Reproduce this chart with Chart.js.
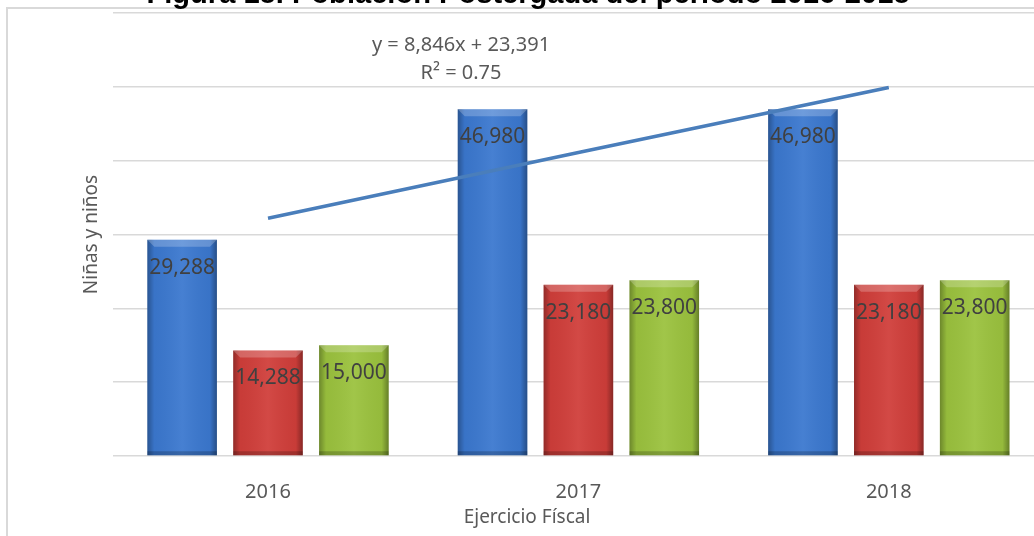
<!DOCTYPE html>
<html>
<head>
<meta charset="utf-8">
<script src="https://cdn.jsdelivr.net/npm/chart.js@4.4.0/dist/chart.umd.min.js"></script>
<style>
  html, body { margin: 0; padding: 0; background: #fff; overflow: hidden; }
  #wrap { position: absolute; left: 0; top: 0; width: 1050px; height: 536px; }
</style>
</head>
<body>
<div id="wrap"><canvas id="poblacionChart" width="1050" height="536"></canvas></div>
<script>
// datos
const categorias = ['2016', '2017', '2018'];
const serieAzul = [29288, 46980, 46980];
const serieRoja = [14288, 23180, 23180];
const serieVerde = [15000, 23800, 23800];
const tendencia = [32200, 41100, 49900];
const yMax = 60000;
const yPaso = 10000;

const tituloTexto = 'Figura 18. Población Postergada del periodo 2016-2018';
const ecuacion = ['y = 8,846x + 23,391', 'R² = 0.75'];
const gris = '#595959';

// marco, titulo cortado, ecuacion y titulo del eje x
const marcoPlugin = {
  id: 'marco',
  beforeDraw(chart) {
    const c = chart.ctx;
    c.save();
    c.strokeStyle = '#d9d9d9';
    c.lineWidth = 2;
    c.beginPath();
    c.moveTo(7, 540);
    c.lineTo(7, 8);
    c.lineTo(chart.width + 5, 8);
    c.stroke();
    c.restore();
  },
  afterDraw(chart) {
    const c = chart.ctx;
    c.save();
    c.fillStyle = '#000';
    c.textAlign = 'center';
    c.textBaseline = 'alphabetic';
    let size = 24;
    c.font = 'bold ' + size + 'px "Liberation Sans", Arial';
    size = size * 764 / c.measureText(tituloTexto).width;
    c.font = 'bold ' + size.toFixed(1) + 'px "Liberation Sans", Arial';
    c.fillText(tituloTexto, 528, 3);

    c.fillStyle = gris;
    c.font = '20px "Noto Sans"';
    c.textBaseline = 'middle';
    c.fillText(ecuacion[0], 461, 45);
    c.fillText(ecuacion[1], 461, 73);

    c.font = '19px "Noto Sans"';
    c.fillText('Ejercicio Físcal', 527, 518);
    c.restore();
  }
};

// sombreado tipo bisel sobre cada barra
const biselPlugin = {
  id: 'bisel',
  afterDatasetDraw(chart, args) {
    const meta = args.meta;
    if (meta.type !== 'bar') return;
    const c = chart.ctx;
    c.save();
    meta.data.forEach(el => {
      const p = el.getProps(['x', 'y', 'base', 'width'], true);
      const x0 = p.x - p.width / 2, x1 = p.x + p.width / 2;
      const g = c.createLinearGradient(x0, 0, x1, 0);
      g.addColorStop(0, 'rgba(0,0,0,0.3)');
      g.addColorStop(0.1, 'rgba(0,0,0,0.04)');
      g.addColorStop(0.5, 'rgba(255,255,255,0.06)');
      g.addColorStop(0.9, 'rgba(0,0,0,0.04)');
      g.addColorStop(1, 'rgba(0,0,0,0.35)');
      c.fillStyle = g;
      c.fillRect(x0, p.y, p.width, p.base - p.y);
      // bisel superior
      c.fillStyle = 'rgba(255,255,255,0.22)';
      c.beginPath();
      c.moveTo(x0, p.y);
      c.lineTo(x1, p.y);
      c.lineTo(x1 - 7, p.y + 7);
      c.lineTo(x0 + 7, p.y + 7);
      c.closePath();
      c.fill();
      // borde inferior oscuro
      c.fillStyle = 'rgba(0,0,0,0.2)';
      c.fillRect(x0, p.base - 4, p.width, 4);
    });
    c.restore();
  }
};

// etiquetas de valor dentro de las barras
const etiquetasPlugin = {
  id: 'etiquetas',
  afterDatasetsDraw(chart) {
    const c = chart.ctx;
    c.save();
    c.fillStyle = '#404040';
    c.font = '21px "Noto Sans"';
    c.textAlign = 'center';
    c.textBaseline = 'middle';
    chart.data.datasets.forEach((ds, i) => {
      if (ds.type !== 'bar') return;
      chart.getDatasetMeta(i).data.forEach((el, j) => {
        c.fillText(ds.data[j].toLocaleString('en-US'), el.x, el.y + 28);
      });
    });
    c.restore();
  }
};

const ctx = document.getElementById('poblacionChart').getContext('2d');
const poblacionChart = new Chart(ctx, {
  data: {
    labels: categorias,
    datasets: [
      {
        type: 'line',
        label: 'Tendencia',
        data: tendencia,
        borderColor: '#4a7ebb',
        borderWidth: 3.5,
        pointRadius: 0,
        fill: false,
        order: 0
      },
      {
        type: 'bar',
        label: 'Serie 1',
        data: serieAzul,
        backgroundColor: '#3b78cf',
        order: 1
      },
      {
        type: 'bar',
        label: 'Serie 2',
        data: serieRoja,
        backgroundColor: '#d03e3a',
        order: 1
      },
      {
        type: 'bar',
        label: 'Serie 3',
        data: serieVerde,
        backgroundColor: '#9bc23e',
        order: 1
      }
    ]
  },
  options: {
    responsive: false,
    animation: false,
    layout: {
      padding: { left: 73, right: 6, top: 13, bottom: 8 }
    },
    datasets: {
      bar: { categoryPercentage: 0.83, barPercentage: 0.81 }
    },
    scales: {
      x: {
        grid: { display: false, drawTicks: false },
        border: { display: false },
        ticks: { color: gris, font: { family: 'Noto Sans', size: 20 }, padding: 24 }
      },
      y: {
        min: 0,
        max: yMax,
        ticks: { display: false, stepSize: yPaso },
        grid: { color: '#d9d9d9', lineWidth: 1.5, drawTicks: false },
        border: { display: false },
        title: {
          display: true,
          text: 'Niñas y niños',
          color: gris,
          font: { family: 'Noto Sans', size: 19 },
          padding: { top: 7, bottom: 10 }
        }
      }
    },
    plugins: {
      legend: { display: false },
      tooltip: { enabled: false }
    }
  },
  plugins: [marcoPlugin, biselPlugin, etiquetasPlugin]
});
</script>
</body>
</html>
